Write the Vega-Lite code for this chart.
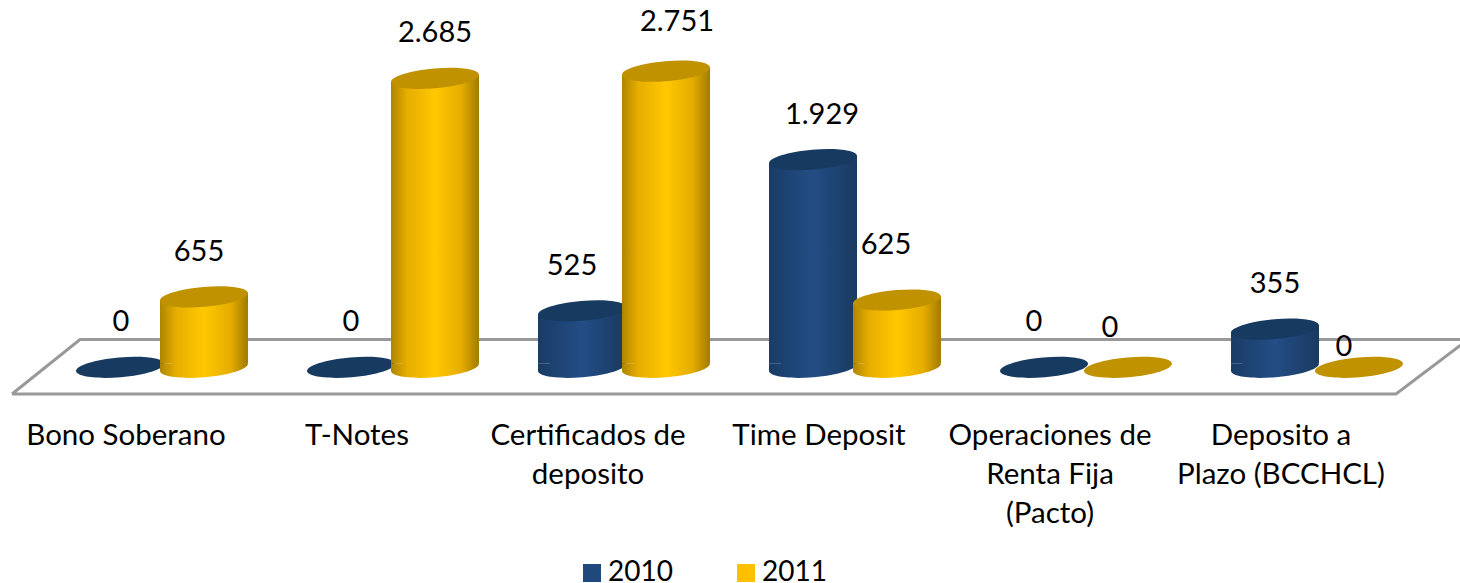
{"$schema":"https://vega.github.io/schema/vega-lite/v6.json","width":1460,"height":400,"autosize":"none","padding":{"left":0,"top":0,"right":0,"bottom":183},"background":"white","config":{"view":{"stroke":null},"font":"Lato"},"datasets":{"bars":[{"cat":"Bono Soberano","year":"2010","v":0,"label":"0"},{"cat":"Bono Soberano","year":"2011","v":655,"label":"655"},{"cat":"T-Notes","year":"2010","v":0,"label":"0"},{"cat":"T-Notes","year":"2011","v":2685,"label":"2.685"},{"cat":"Certificados de\ndeposito","year":"2010","v":525,"label":"525"},{"cat":"Certificados de\ndeposito","year":"2011","v":2751,"label":"2.751"},{"cat":"Time Deposit","year":"2010","v":1929,"label":"1.929"},{"cat":"Time Deposit","year":"2011","v":625,"label":"625"},{"cat":"Operaciones de\nRenta Fija\n(Pacto)","year":"2010","v":0,"label":"0"},{"cat":"Operaciones de\nRenta Fija\n(Pacto)","year":"2011","v":0,"label":"0"},{"cat":"Deposito a\nPlazo (BCCHCL)","year":"2010","v":355,"label":"355"},{"cat":"Deposito a\nPlazo (BCCHCL)","year":"2011","v":0,"label":"0"}],"floor":[{"i":0,"fx":12,"fv":-248},{"i":1,"fx":80,"fv":258},{"i":2,"fx":1468,"fv":258},{"i":3,"fx":1396,"fv":-248},{"i":4,"fx":12,"fv":-248}]},"resolve":{"scale":{"x":"independent"}},"layer":[{"data":{"name":"floor"},"mark":{"type":"line","color":"#999999","strokeWidth":3,"strokeJoin":"miter"},"encoding":{"x":{"field":"fx","type":"quantitative","axis":null,"scale":{"domain":[0,1460],"range":[0,1460]}},"y":{"field":"fv","type":"quantitative","axis":null,"scale":{"domain":[-304,3413],"nice":false,"zero":false}},"order":{"field":"i"}}},{"data":{"name":"bars"},"layer":[{"transform":[{"filter":"datum.year=='2010'&&datum.v>0"}],"mark":{"type":"point","filled":true,"opacity":1,"size":7744,"fill":{"gradient":"linear","x1":0,"y1":0,"x2":1,"y2":0,"stops":[{"offset":0,"color":"#193c66"},{"offset":0.5,"color":"#234d85"},{"offset":1,"color":"#193a60"}]},"shape":"M-1 .087A1 .225 -5 1 1 1 -.087A1 .225 -5 1 1 -1 .087ZM-1 -.09L1 -.09L-1 .09Z"},"encoding":{"y":{"datum":0,"type":"quantitative"}}},{"transform":[{"filter":"datum.year=='2010'&&datum.v>0"}],"mark":{"type":"bar","width":88,"yOffset":4,"y2Offset":-4,"fill":{"gradient":"linear","x1":0,"y1":0,"x2":1,"y2":0,"stops":[{"offset":0,"color":"#193c66"},{"offset":0.5,"color":"#234d85"},{"offset":1,"color":"#193a60"}]}},"encoding":{"y":{"field":"v","type":"quantitative"},"y2":{"datum":0}}},{"transform":[{"filter":"datum.year=='2010'&&datum.v>0"}],"mark":{"type":"point","filled":true,"opacity":1,"size":7744,"fill":{"gradient":"linear","x1":0,"y1":0,"x2":1,"y2":0,"stops":[{"offset":0,"color":"#193c66"},{"offset":0.5,"color":"#234d85"},{"offset":1,"color":"#193a60"}]},"shape":"M-1 .09L1 -.09L1 .2L-1 .2Z"},"encoding":{"y":{"field":"v","type":"quantitative"}}},{"transform":[{"filter":"datum.year=='2010'"}],"mark":{"type":"point","filled":true,"opacity":1,"size":7744,"fill":"#173a60","shape":"M-1 .087A1 .225 -5 1 1 1 -.087A1 .225 -5 1 1 -1 .087Z"},"encoding":{"y":{"field":"v","type":"quantitative"}}},{"transform":[{"filter":"datum.year=='2011'&&datum.v>0"}],"mark":{"type":"point","filled":true,"opacity":1,"size":7744,"fill":{"gradient":"linear","x1":0,"y1":0,"x2":1,"y2":0,"stops":[{"offset":0,"color":"#ad8500"},{"offset":0.18,"color":"#e6ad00"},{"offset":0.5,"color":"#ffc800"},{"offset":0.8,"color":"#e6ad00"},{"offset":1,"color":"#a07b00"}]},"shape":"M-1 .087A1 .225 -5 1 1 1 -.087A1 .225 -5 1 1 -1 .087ZM-1 -.09L1 -.09L-1 .09Z"},"encoding":{"y":{"datum":0,"type":"quantitative"}}},{"transform":[{"filter":"datum.year=='2011'&&datum.v>0"}],"mark":{"type":"bar","width":88,"yOffset":4,"y2Offset":-4,"fill":{"gradient":"linear","x1":0,"y1":0,"x2":1,"y2":0,"stops":[{"offset":0,"color":"#ad8500"},{"offset":0.18,"color":"#e6ad00"},{"offset":0.5,"color":"#ffc800"},{"offset":0.8,"color":"#e6ad00"},{"offset":1,"color":"#a07b00"}]}},"encoding":{"y":{"field":"v","type":"quantitative"},"y2":{"datum":0}}},{"transform":[{"filter":"datum.year=='2011'&&datum.v>0"}],"mark":{"type":"point","filled":true,"opacity":1,"size":7744,"fill":{"gradient":"linear","x1":0,"y1":0,"x2":1,"y2":0,"stops":[{"offset":0,"color":"#ad8500"},{"offset":0.18,"color":"#e6ad00"},{"offset":0.5,"color":"#ffc800"},{"offset":0.8,"color":"#e6ad00"},{"offset":1,"color":"#a07b00"}]},"shape":"M-1 .09L1 -.09L1 .2L-1 .2Z"},"encoding":{"y":{"field":"v","type":"quantitative"}}},{"transform":[{"filter":"datum.year=='2011'"}],"mark":{"type":"point","filled":true,"opacity":1,"size":7744,"fill":"#c09200","shape":"M-1 .087A1 .225 -5 1 1 1 -.087A1 .225 -5 1 1 -1 .087Z"},"encoding":{"y":{"field":"v","type":"quantitative"}}},{"mark":{"type":"text","fontSize":29,"font":"Lato","color":"#000000","baseline":"middle","dx":{"expr":"({'Bono Soberano|2010':1,'Bono Soberano|2011':-5,'Certificados de\\ndeposito|2010':-10,'Certificados de\\ndeposito|2011':11,'Time Deposit|2010':9,'Time Deposit|2011':-11,'Operaciones de\\nRenta Fija\\n(Pacto)|2010':-10,'Operaciones de\\nRenta Fija\\n(Pacto)|2011':-18,'Deposito a\\nPlazo (BCCHCL)|2011':-15})[datum.cat+'|'+datum.year]||0"},"dy":{"expr":"({'Certificados de\\ndeposito|2011':-49,'Time Deposit|2011':-55,'Operaciones de\\nRenta Fija\\n(Pacto)|2011':-39,'Deposito a\\nPlazo (BCCHCL)|2011':-20})[datum.cat+'|'+datum.year]||-45"}},"encoding":{"y":{"field":"v","type":"quantitative"},"text":{"field":"label"}}},{"mark":{"type":"point","filled":true,"opacity":1,"size":0},"encoding":{"y":{"datum":0,"type":"quantitative"},"color":{"field":"year","type":"nominal","scale":{"domain":["2010","2011"],"range":["#1f497d","#ffc000"]},"legend":{"title":null,"orient":"none","legendX":578,"legendY":559,"direction":"horizontal","symbolType":"square","symbolSize":324,"symbolOpacity":1,"labelFontSize":28,"labelFont":"Lato","labelColor":"#000000","columnPadding":59,"labelOffset":2,"padding":0}}}}],"encoding":{"x":{"field":"cat","type":"nominal","scale":{"domain":["Bono Soberano","T-Notes","Certificados de\ndeposito","Time Deposit","Operaciones de\nRenta Fija\n(Pacto)","Deposito a\nPlazo (BCCHCL)"],"range":[46.5,1432.5],"paddingInner":0.273,"paddingOuter":0.1365},"axis":{"title":null,"domain":false,"ticks":false,"labelAngle":0,"labelFontSize":29.5,"labelFont":"Lato","labelColor":"#000000","labelPadding":21,"labelOffset":-36,"labelLineHeight":39,"labelLimit":0,"labelExpr":"split(datum.label,'\\n')"}},"xOffset":{"field":"year","type":"nominal","scale":{"domain":["2010","2011"]}}}}]}
